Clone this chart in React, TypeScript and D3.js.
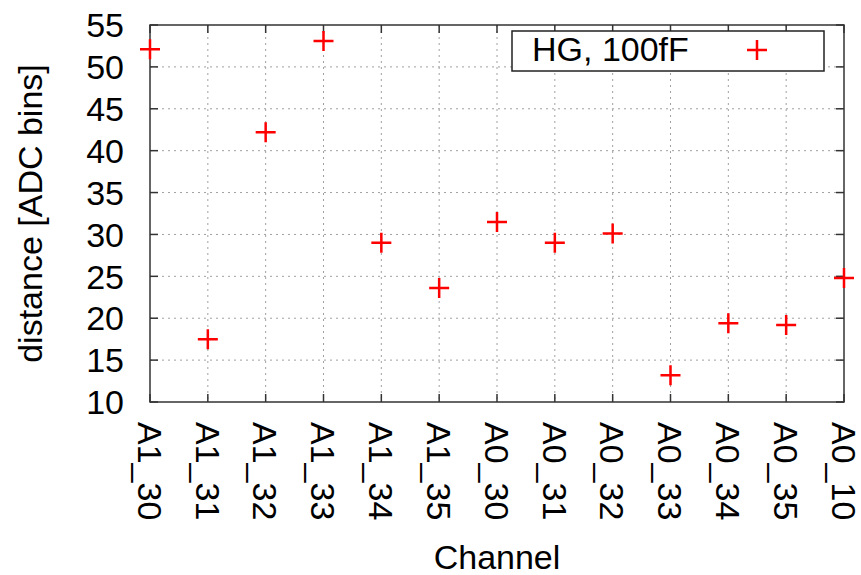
import React, { useEffect, useRef } from 'react';
import * as d3 from 'd3';

// channel names along the x axis and the measured distances
const channels = ['A1_30', 'A1_31', 'A1_32', 'A1_33', 'A1_34', 'A1_35', 'A0_30', 'A0_31', 'A0_32', 'A0_33', 'A0_34', 'A0_35', 'A0_10'];
const distances = [52.1, 17.5, 42.2, 53.1, 29.0, 23.6, 31.5, 29.0, 30.1, 13.2, 19.4, 19.2, 24.8];
const yTicks = [10, 15, 20, 25, 30, 35, 40, 45, 50, 55];
const seriesLabel = 'HG, 100fF';

/* DistanceChart: gnuplot-like scatter of distance per channel */
function DistanceChart({ width, height }) {
  const ref = useRef(null);
  const margin = { top: 25, right: 17, bottom: 173, left: 150 };
  const font = "'Liberation Sans', Arial, sans-serif";

  useEffect(() => {
    const svg = d3.select(ref.current);
    svg.selectAll('*').remove();
    svg.attr('width', width).attr('height', height);

    const x = d3.scalePoint()
      .domain(channels)
      .range([margin.left, width - margin.right]);
    const y = d3.scaleLinear()
      .domain([10, 55])
      .range([height - margin.bottom, margin.top]);

    const left = margin.left, right = width - margin.right;
    const top = margin.top, bottom = height - margin.bottom;
    const tickLen = 8;

    // grid
    const grid = svg.append('g')
      .attr('stroke', '#a0a0a0')
      .attr('stroke-width', 1)
      .attr('stroke-dasharray', '2,4');
    grid.selectAll('line.v').data(channels.slice(1, -1)).enter().append('line')
      .attr('x1', d => x(d)).attr('x2', d => x(d))
      .attr('y1', top).attr('y2', bottom);
    grid.selectAll('line.h').data(yTicks.slice(1, -1)).enter().append('line')
      .attr('x1', left).attr('x2', right)
      .attr('y1', d => y(d)).attr('y2', d => y(d));

    // ticks (inside, on all four sides)
    const ticks = svg.append('g').attr('stroke', '#333').attr('stroke-width', 1.5);
    channels.forEach(c => {
      ticks.append('line').attr('x1', x(c)).attr('x2', x(c)).attr('y1', bottom).attr('y2', bottom - tickLen);
      ticks.append('line').attr('x1', x(c)).attr('x2', x(c)).attr('y1', top).attr('y2', top + tickLen);
    });
    yTicks.forEach(t => {
      ticks.append('line').attr('x1', left).attr('x2', left + tickLen).attr('y1', y(t)).attr('y2', y(t));
      ticks.append('line').attr('x1', right).attr('x2', right - tickLen).attr('y1', y(t)).attr('y2', y(t));
    });

    // tick labels
    svg.append('g').selectAll('text').data(yTicks).enter().append('text')
      .attr('x', left - 26)
      .attr('y', d => y(d))
      .attr('dy', '0.36em')
      .attr('text-anchor', 'end')
      .style('font-family', font)
      .style('font-size', '34px')
      .text(d => d);

    svg.append('g').selectAll('text').data(channels).enter().append('text')
      .attr('transform', d => `translate(${x(d)},${bottom + 20}) rotate(90)`)
      .attr('dy', '0.36em')
      .attr('text-anchor', 'start')
      .style('font-family', font)
      .style('font-size', '34px')
      .text(d => d);

    // axis titles
    svg.append('text')
      .attr('x', (left + right) / 2)
      .attr('y', 569)
      .attr('text-anchor', 'middle')
      .style('font-family', font)
      .style('font-size', '34px')
      .text('Channel');
    svg.append('text')
      .attr('transform', `translate(42,${(top + bottom) / 2}) rotate(-90)`)
      .attr('text-anchor', 'middle')
      .style('font-family', font)
      .style('font-size', '34px')
      .text('distance [ADC bins]');

    // legend
    const legend = svg.append('g');
    legend.append('rect')
      .attr('x', 512).attr('y', 31).attr('width', 312).attr('height', 40)
      .attr('fill', '#fff').attr('stroke', '#222').attr('stroke-width', 1.5);
    legend.append('text')
      .attr('x', 532).attr('y', 61)
      .style('font-family', font)
      .style('font-size', '34px')
      .text(seriesLabel);

    const plus = (g, cx, cy) => {
      const s = 10;
      g.append('path')
        .attr('d', `M${cx - s},${cy}H${cx + s}M${cx},${cy - s}V${cy + s}`)
        .attr('stroke', '#ff0000')
        .attr('stroke-width', 2.5)
        .attr('fill', 'none');
    };
    plus(legend, 757, 50);

    // frame
    svg.append('rect')
      .attr('x', left).attr('y', top)
      .attr('width', right - left).attr('height', bottom - top)
      .attr('fill', 'none').attr('stroke', '#333').attr('stroke-width', 1.5);

    // points
    const pts = svg.append('g');
    channels.forEach((c, i) => plus(pts, x(c), y(distances[i])));
  }, [width, height]);

  return <svg ref={ref} style={{ display: 'block' }} />;
}

export default function App() {
  useEffect(() => {
    document.body.style.margin = '0';
  }, []);
  return <DistanceChart width={861} height={575} />;
}
